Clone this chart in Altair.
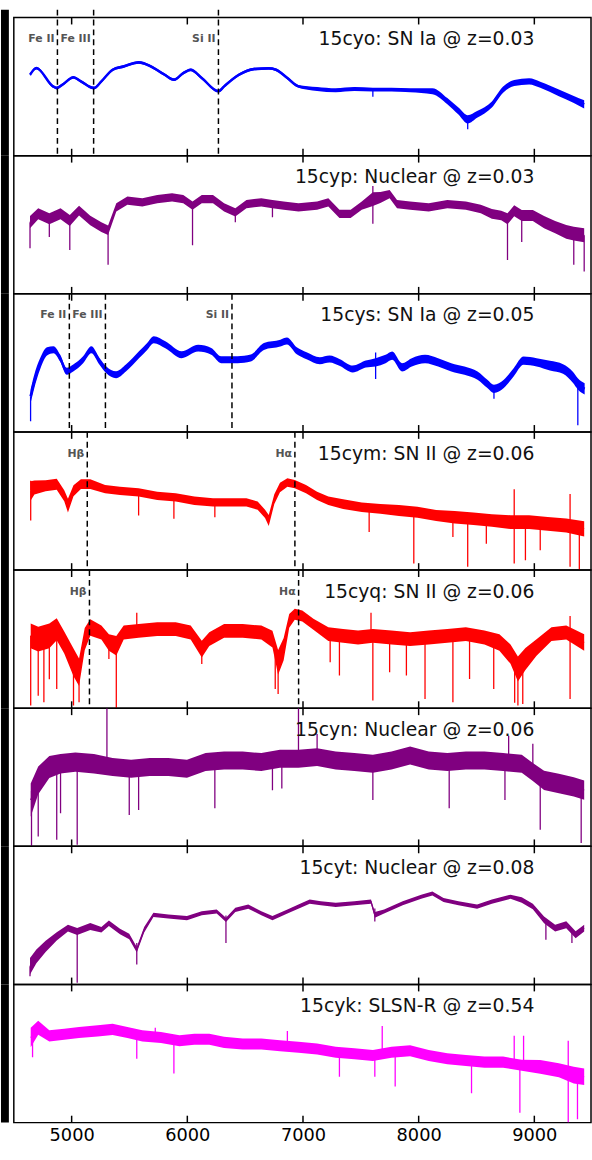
import altair as alt
import pandas as pd

# ---------------- shared axis values ----------------
X_TICKS = [5000, 6000, 7000, 8000, 9000]
X_DOMAIN = [4500, 9490]
TITLE_X = 9000

titles = [
    "15cyo: SN Ia @ z=0.03",
    "15cyp: Nuclear @ z=0.03",
    "15cys: SN Ia @ z=0.05",
    "15cym: SN II @ z=0.06",
    "15cyq: SN II @ z=0.06",
    "15cyn: Nuclear @ z=0.06",
    "15cyt: Nuclear @ z=0.08",
    "15cyk: SLSN-R @ z=0.54",
]
colors = ["#0000ff", "#800080", "#0000ff", "#ff0000", "#ff0000", "#800080", "#800080", "#ff00ff"]

# ---------------- panel 1: 15cyo ----------------
p1_wl = [4640, 4695, 4839, 4871, 4920, 5016, 5080, 5193, 5257, 5354, 5450, 5579, 5675, 5804, 5884,
         5965, 6029, 6125, 6270, 6318, 6447, 6576, 6704, 6768, 6865, 6961, 7122, 7283, 7444, 7604,
         7765, 7926, 8119, 8248, 8344, 8424, 8505, 8633, 8730, 8826, 8955, 9051, 9212, 9341, 9431]
p1_flux = [0.586, 0.634, 0.502, 0.490, 0.514, 0.567, 0.538, 0.490, 0.538, 0.622, 0.646, 0.675, 0.651, 0.586, 0.550,
           0.598, 0.622, 0.562, 0.467, 0.502, 0.586, 0.627, 0.632, 0.622, 0.562, 0.502, 0.483, 0.474, 0.483, 0.478,
           0.478, 0.474, 0.467, 0.395, 0.323, 0.263, 0.299, 0.371, 0.478, 0.526, 0.538, 0.514, 0.455, 0.407, 0.371]
p1_noise = [0.010, 0.010, 0.010, 0.010, 0.010, 0.010, 0.010, 0.010, 0.010, 0.010, 0.010, 0.010, 0.010, 0.010, 0.010,
            0.010, 0.010, 0.010, 0.010, 0.010, 0.010, 0.010, 0.010, 0.010, 0.010, 0.010, 0.014, 0.014, 0.014, 0.014,
            0.014, 0.014, 0.022, 0.022, 0.025, 0.030, 0.025, 0.022, 0.022, 0.022, 0.022, 0.022, 0.025, 0.025, 0.030]
p1_spk_wl = [7604, 8424]
p1_spk_a = [0.478, 0.263]
p1_spk_b = [0.426, 0.191]
p1_lines = [4877, 5190, 6269]
p1_line_labels = ["Fe II", "Fe III", "Si II"]

# ---------------- panel 2: 15cyp ----------------
p2_wl = [4640, 4711, 4807, 4904, 4984, 5064, 5161, 5257, 5315, 5386,
         5482, 5611, 5740, 5868, 5965, 6045, 6125, 6222, 6318, 6415,
         6511, 6640, 6736, 6833, 6961, 7122, 7219, 7315, 7412, 7508,
         7604, 7669, 7749, 7813, 7926, 8087, 8248, 8408, 8537, 8633,
         8714, 8768, 8826, 8891, 8987, 9084, 9180, 9276, 9341, 9431]
p2_flux = [0.519, 0.579, 0.543, 0.579, 0.531, 0.602, 0.531, 0.483, 0.460, 0.626,
           0.674, 0.662, 0.686, 0.698, 0.686, 0.638, 0.686, 0.686, 0.626, 0.590,
           0.650, 0.662, 0.650, 0.638, 0.626, 0.638, 0.662, 0.579, 0.579, 0.638,
           0.686, 0.698, 0.721, 0.650, 0.638, 0.626, 0.650, 0.638, 0.614, 0.579,
           0.567, 0.543, 0.602, 0.567, 0.567, 0.519, 0.483, 0.448, 0.436, 0.424]
p2_noise = [0.045, 0.040, 0.040, 0.040, 0.040, 0.035, 0.035, 0.035, 0.035, 0.030,
            0.030, 0.030, 0.030, 0.030, 0.030, 0.030, 0.030, 0.030, 0.030, 0.030,
            0.030, 0.030, 0.030, 0.030, 0.030, 0.030, 0.030, 0.030, 0.030, 0.030,
            0.050, 0.040, 0.030, 0.030, 0.030, 0.030, 0.030, 0.030, 0.030, 0.035,
            0.035, 0.040, 0.040, 0.040, 0.040, 0.045, 0.045, 0.050, 0.050, 0.050]
p2_spk_wl = [4640, 4807, 4984, 5315, 6045, 6415, 6736, 7604, 7604, 8768, 8891, 9341, 9431]
p2_spk_a = [0.519, 0.543, 0.531, 0.460, 0.638, 0.590, 0.650, 0.686, 0.686, 0.543, 0.567, 0.436, 0.424]
p2_spk_b = [0.329, 0.412, 0.317, 0.210, 0.352, 0.519, 0.555, 0.507, 0.781, 0.245, 0.376, 0.210, 0.162]
p2_lines = []
p2_line_labels = []

# ---------------- panel 3: 15cys ----------------
p3_wl = [4645, 4673, 4730, 4787, 4843, 4900, 4957, 5014, 5099, 5170,
         5241, 5298, 5384, 5469, 5582, 5653, 5710, 5810, 5951, 6094,
         6207, 6292, 6435, 6548, 6662, 6804, 6861, 6946, 7031, 7145,
         7230, 7315, 7430, 7543, 7628, 7714, 7771, 7856, 7941, 8055,
         8168, 8282, 8396, 8509, 8594, 8651, 8736, 8821, 8907, 9020,
         9135, 9248, 9333, 9376, 9435]
p3_flux = [0.258, 0.354, 0.499, 0.583, 0.595, 0.535, 0.439, 0.463, 0.523, 0.595,
           0.511, 0.451, 0.414, 0.463, 0.559, 0.619, 0.667, 0.631, 0.559, 0.607,
           0.583, 0.523, 0.523, 0.535, 0.619, 0.643, 0.659, 0.588, 0.552, 0.516,
           0.528, 0.504, 0.456, 0.492, 0.504, 0.528, 0.552, 0.468, 0.504, 0.528,
           0.504, 0.468, 0.444, 0.408, 0.348, 0.312, 0.348, 0.432, 0.516, 0.504,
           0.480, 0.456, 0.396, 0.348, 0.312]
p3_noise = [0.050, 0.050, 0.040, 0.030, 0.025, 0.025, 0.025, 0.025, 0.025, 0.025,
            0.025, 0.025, 0.025, 0.025, 0.025, 0.025, 0.025, 0.025, 0.025, 0.025,
            0.025, 0.025, 0.025, 0.025, 0.025, 0.025, 0.025, 0.025, 0.025, 0.025,
            0.025, 0.025, 0.025, 0.025, 0.030, 0.030, 0.030, 0.030, 0.030, 0.030,
            0.030, 0.030, 0.030, 0.030, 0.030, 0.030, 0.030, 0.030, 0.030, 0.030,
            0.035, 0.035, 0.040, 0.040, 0.040]
p3_spk_wl = [4645, 7628, 7628, 8651, 9376]
p3_spk_a = [0.258, 0.504, 0.504, 0.312, 0.348]
p3_spk_b = [0.077, 0.576, 0.384, 0.240, 0.048]
p3_lines = [4980, 5292, 6386]
p3_line_labels = ["Fe II", "Fe III", "Si II"]

# ---------------- panel 4: 15cym ----------------
p4_wl = [4646, 4678, 4775, 4871, 4936, 4968, 5016, 5080, 5161, 5289,
         5418, 5579, 5740, 5900, 6061, 6222, 6383, 6511, 6608, 6672,
         6704, 6752, 6801, 6865, 6929, 7026, 7122, 7219, 7347, 7508,
         7669, 7830, 7990, 8151, 8312, 8473, 8633, 8794, 8955, 9116,
         9276, 9431]
p4_flux = [0.574, 0.598, 0.610, 0.622, 0.538, 0.467, 0.574, 0.622, 0.622, 0.586,
           0.574, 0.562, 0.538, 0.526, 0.502, 0.490, 0.490, 0.490, 0.467, 0.407,
           0.359, 0.514, 0.598, 0.634, 0.622, 0.586, 0.538, 0.502, 0.478, 0.455,
           0.443, 0.431, 0.419, 0.395, 0.383, 0.371, 0.359, 0.347, 0.347, 0.335,
           0.323, 0.299]
p4_noise = [0.070, 0.050, 0.040, 0.040, 0.040, 0.050, 0.040, 0.035, 0.035, 0.030,
            0.030, 0.030, 0.030, 0.030, 0.030, 0.030, 0.030, 0.030, 0.030, 0.030,
            0.040, 0.035, 0.035, 0.030, 0.030, 0.030, 0.030, 0.030, 0.035, 0.035,
            0.035, 0.040, 0.040, 0.040, 0.045, 0.045, 0.045, 0.050, 0.050, 0.050,
            0.050, 0.055]
p4_spk_wl = [4646, 4646, 5579, 5884, 6238, 7572, 7958, 8296, 8424, 8585, 8826, 8826, 8923, 9051, 9309, 9309, 9389]
p4_spk_a = [0.574, 0.574, 0.562, 0.526, 0.490, 0.443, 0.431, 0.383, 0.371, 0.359, 0.347, 0.347, 0.347, 0.340, 0.323, 0.323, 0.310]
p4_spk_b = [0.359, 0.646, 0.395, 0.371, 0.383, 0.275, 0.048, 0.239, 0.024, 0.191, 0.048, 0.586, 0.072, 0.144, 0.024, 0.550, 0.000]
p4_lines = [5135, 6930]
p4_line_labels = ["Hβ", "Hα"]

# ---------------- panel 5: 15cyq ----------------
p5_wl = [4646, 4711, 4807, 4871, 4936, 5016, 5064, 5113, 5161, 5257,
         5322, 5386, 5450, 5579, 5740, 5900, 6029, 6125, 6190, 6318,
         6479, 6640, 6736, 6785, 6833, 6881, 6929, 6994, 7090, 7219,
         7347, 7476, 7604, 7765, 7926, 8087, 8248, 8408, 8569, 8698,
         8794, 8858, 8923, 9019, 9148, 9276, 9431]
p5_flux = [0.524, 0.500, 0.524, 0.572, 0.476, 0.332, 0.260, 0.500, 0.584, 0.548,
           0.476, 0.452, 0.548, 0.560, 0.572, 0.572, 0.548, 0.428, 0.500, 0.560,
           0.560, 0.548, 0.500, 0.332, 0.428, 0.632, 0.680, 0.668, 0.608, 0.536,
           0.524, 0.512, 0.524, 0.512, 0.500, 0.512, 0.524, 0.536, 0.512, 0.476,
           0.392, 0.284, 0.356, 0.440, 0.536, 0.548, 0.476]
p5_noise = [0.090, 0.090, 0.090, 0.080, 0.080, 0.100, 0.100, 0.080, 0.060, 0.050,
            0.060, 0.070, 0.050, 0.050, 0.050, 0.050, 0.050, 0.060, 0.050, 0.050,
            0.050, 0.050, 0.060, 0.090, 0.080, 0.050, 0.040, 0.040, 0.040, 0.050,
            0.050, 0.050, 0.050, 0.050, 0.050, 0.050, 0.050, 0.050, 0.050, 0.060,
            0.070, 0.090, 0.080, 0.060, 0.050, 0.050, 0.060]
p5_spk_wl = [4646, 4711, 4760, 4807, 4871, 5016, 5064, 5322, 5386, 5563,
             6125, 6760, 6785, 7235, 7315, 7588, 7604, 7749, 7894, 8055,
             8296, 8440, 8649, 8830, 8858, 8900, 9309, 9309]
p5_spk_a = [0.524, 0.500, 0.510, 0.524, 0.572, 0.332, 0.260, 0.476, 0.452, 0.560,
            0.428, 0.400, 0.332, 0.536, 0.524, 0.524, 0.524, 0.512, 0.500, 0.512,
            0.524, 0.536, 0.500, 0.340, 0.284, 0.320, 0.540, 0.540]
p5_spk_b = [0.019, 0.091, 0.043, 0.210, 0.139, 0.019, 0.043, 0.356, 0.000, 0.692,
            0.320, 0.140, 0.103, 0.332, 0.236, 0.692, 0.055, 0.260, 0.236, 0.067,
            0.043, 0.212, 0.139, 0.040, 0.019, 0.030, 0.067, 0.668]
p5_lines = [5154, 6962]
p5_line_labels = ["Hβ", "Hα"]

# ---------------- panel 6: 15cyn ----------------
p6_wl = [4646, 4711, 4807, 4904, 5032, 5193, 5354, 5514, 5675, 5836,
         5997, 6158, 6318, 6479, 6640, 6801, 6961, 7122, 7283, 7444,
         7604, 7765, 7926, 8087, 8248, 8408, 8569, 8730, 8891, 8987,
         9084, 9212, 9341, 9431]
p6_flux = [0.335, 0.478, 0.574, 0.598, 0.610, 0.598, 0.574, 0.562, 0.574, 0.574,
           0.562, 0.610, 0.622, 0.622, 0.610, 0.634, 0.634, 0.646, 0.622, 0.610,
           0.598, 0.622, 0.658, 0.622, 0.610, 0.622, 0.622, 0.610, 0.598, 0.538,
           0.478, 0.455, 0.431, 0.407]
p6_noise = [0.120, 0.100, 0.080, 0.070, 0.070, 0.070, 0.065, 0.065, 0.065, 0.065,
            0.065, 0.065, 0.065, 0.065, 0.065, 0.065, 0.065, 0.065, 0.065, 0.065,
            0.065, 0.065, 0.065, 0.065, 0.065, 0.065, 0.065, 0.065, 0.065, 0.065,
            0.070, 0.070, 0.070, 0.070]
p6_spk_wl = [4653, 4711, 4871, 4904, 5048, 5305, 5498, 5579, 6238, 6736,
             6817, 6961, 7122, 7604, 8264, 8746, 8778, 8987, 9051, 9405]
p6_spk_a = [0.400, 0.478, 0.574, 0.598, 0.610, 0.590, 0.565, 0.565, 0.600, 0.610,
            0.630, 0.634, 0.646, 0.598, 0.610, 0.610, 0.610, 0.538, 0.500, 0.410]
p6_spk_b = [0.000, 0.072, 0.048, 0.239, 0.012, 1.000, 0.227, 0.263, 0.275, 0.407,
            0.419, 1.000, 0.813, 0.335, 0.275, 0.335, 0.801, 0.742, 0.120, 0.024]
p6_lines = []
p6_line_labels = []

# ---------------- panel 7: 15cyt ----------------
p7_wl = [4640, 4695, 4775, 4871, 4968, 5048, 5161, 5257, 5322, 5418,
         5498, 5563, 5627, 5707, 5836, 5997, 6125, 6254, 6334, 6415,
         6527, 6640, 6736, 6865, 6994, 7058, 7154, 7283, 7444, 7588,
         7621, 7701, 7862, 8022, 8119, 8215, 8344, 8505, 8633, 8794,
         8891, 8987, 9084, 9180, 9276, 9357, 9431]
p7_flux = [0.132, 0.204, 0.276, 0.348, 0.408, 0.384, 0.420, 0.396, 0.444, 0.384,
           0.348, 0.252, 0.396, 0.504, 0.492, 0.480, 0.516, 0.528, 0.468, 0.540,
           0.564, 0.516, 0.480, 0.528, 0.576, 0.600, 0.588, 0.576, 0.588, 0.600,
           0.504, 0.528, 0.588, 0.635, 0.659, 0.612, 0.588, 0.564, 0.600, 0.635,
           0.612, 0.564, 0.468, 0.408, 0.432, 0.360, 0.408]
p7_noise = [0.060, 0.050, 0.040, 0.030, 0.025, 0.025, 0.025, 0.020, 0.020, 0.020,
            0.020, 0.020, 0.020, 0.015, 0.015, 0.015, 0.015, 0.015, 0.015, 0.015,
            0.015, 0.015, 0.015, 0.015, 0.015, 0.015, 0.015, 0.015, 0.015, 0.015,
            0.020, 0.015, 0.015, 0.015, 0.015, 0.015, 0.015, 0.015, 0.015, 0.015,
            0.020, 0.020, 0.025, 0.025, 0.025, 0.025, 0.025]
p7_spk_wl = [4640, 5048, 5563, 6334, 7621, 9100, 9325]
p7_spk_a = [0.132, 0.400, 0.300, 0.500, 0.550, 0.460, 0.400]
p7_spk_b = [0.060, 0.012, 0.144, 0.300, 0.456, 0.324, 0.300]
p7_lines = []
p7_line_labels = []

# ---------------- panel 8: 15cyk ----------------
p8_wl = [4646, 4711, 4807, 4936, 5064, 5225, 5354, 5482, 5611, 5772,
         5932, 6061, 6190, 6318, 6479, 6640, 6801, 6961, 7122, 7283,
         7444, 7604, 7765, 7926, 8087, 8248, 8408, 8569, 8730, 8891,
         9051, 9212, 9341, 9431]
p8_flux = [0.616, 0.687, 0.628, 0.640, 0.652, 0.664, 0.675, 0.652, 0.628, 0.616,
           0.592, 0.604, 0.604, 0.581, 0.569, 0.569, 0.557, 0.545, 0.533, 0.509,
           0.498, 0.486, 0.509, 0.521, 0.486, 0.462, 0.450, 0.438, 0.438, 0.415,
           0.403, 0.379, 0.344, 0.332]
p8_noise = [0.070, 0.050, 0.040, 0.040, 0.040, 0.040, 0.040, 0.040, 0.040, 0.040,
            0.040, 0.040, 0.040, 0.040, 0.040, 0.040, 0.040, 0.040, 0.040, 0.040,
            0.040, 0.040, 0.040, 0.040, 0.040, 0.040, 0.040, 0.040, 0.040, 0.040,
            0.050, 0.050, 0.060, 0.060]
p8_spk_wl = [4662, 5563, 5884, 7315, 7621, 7797, 8457, 8875, 9293, 9373, 5723, 6865, 7685, 8826, 8907, 9293]
p8_spk_a = [0.620, 0.660, 0.600, 0.510, 0.490, 0.510, 0.450, 0.420, 0.360, 0.340, 0.630, 0.550, 0.500, 0.420, 0.420, 0.360]
p8_spk_b = [0.474, 0.462, 0.355, 0.332, 0.332, 0.261, 0.213, 0.071, 0.000, 0.024, 0.687, 0.664, 0.699, 0.628, 0.628, 0.592]
p8_lines = []
p8_line_labels = []

panels_data = [
    (p1_wl, p1_flux, p1_noise, p1_spk_wl, p1_spk_a, p1_spk_b, p1_lines, p1_line_labels),
    (p2_wl, p2_flux, p2_noise, p2_spk_wl, p2_spk_a, p2_spk_b, p2_lines, p2_line_labels),
    (p3_wl, p3_flux, p3_noise, p3_spk_wl, p3_spk_a, p3_spk_b, p3_lines, p3_line_labels),
    (p4_wl, p4_flux, p4_noise, p4_spk_wl, p4_spk_a, p4_spk_b, p4_lines, p4_line_labels),
    (p5_wl, p5_flux, p5_noise, p5_spk_wl, p5_spk_a, p5_spk_b, p5_lines, p5_line_labels),
    (p6_wl, p6_flux, p6_noise, p6_spk_wl, p6_spk_a, p6_spk_b, p6_lines, p6_line_labels),
    (p7_wl, p7_flux, p7_noise, p7_spk_wl, p7_spk_a, p7_spk_b, p7_lines, p7_line_labels),
    (p8_wl, p8_flux, p8_noise, p8_spk_wl, p8_spk_a, p8_spk_b, p8_lines, p8_line_labels),
]

W, H = 585, 140
FONT = "DejaVu Sans"
smooth = [True, False, True, False, False, False, False, False]


def make_panel(i, data, bottom):
    wl, flux, noise, s_wl, s_a, s_b, lines, labels = data
    col = colors[i]
    top_ext = -8 if i == 0 else 0
    xs = alt.Scale(domain=X_DOMAIN, nice=False, zero=False)
    ys = alt.Scale(domain=[0, 1], nice=False, zero=False)
    if bottom:
        xaxis = alt.Axis(values=X_TICKS, format="d", labelFontSize=18, labelFont=FONT,
                         labelColor="black", ticks=False, domain=False, grid=False,
                         title=None, labelPadding=4)
    else:
        xaxis = None
    X = alt.X("wl:Q", scale=xs, axis=xaxis)

    df = pd.DataFrame({
        "wl": wl,
        "flux": flux,
        "lo": [f - n for f, n in zip(flux, noise)],
        "hi": [f + n for f, n in zip(flux, noise)],
    })
    sdf = pd.DataFrame({"wl": s_wl, "a": s_a, "b": s_b})
    ldf = pd.DataFrame({"wl": lines, "label": labels})
    tdf = pd.DataFrame({"wl": X_TICKS})
    hdf = pd.DataFrame({"wl": [TITLE_X], "t": [titles[i]]})

    strip = alt.Chart(hdf).mark_rect(color="black").encode(
        x=alt.value(-13), x2=alt.value(-5), y=alt.value(top_ext), y2=alt.value(H))

    band = alt.Chart(df).mark_area(
        color=col, opacity=1, clip=True,
        interpolate="monotone" if smooth[i] else "linear").encode(
        x=X, y=alt.Y("lo:Q", scale=ys, axis=None), y2="hi:Q")
    line = alt.Chart(df).mark_line(
        color=col, strokeWidth=2.5 if smooth[i] else 1.2, clip=True,
        interpolate="monotone" if smooth[i] else "linear").encode(
        x=X, y=alt.Y("flux:Q", scale=ys, axis=None))
    spikes = alt.Chart(sdf).mark_rule(color=col, strokeWidth=1.3, clip=True).encode(
        x=X, y=alt.Y("a:Q", scale=ys, axis=None), y2="b:Q")

    tick_top = alt.Chart(tdf).mark_rule(color="black", strokeWidth=1.5).encode(
        x=X, y=alt.value(0), y2=alt.value(7))
    tick_bot = alt.Chart(tdf).mark_rule(color="black", strokeWidth=1.5).encode(
        x=X, y=alt.value(H - 7), y2=alt.value(H))

    title = alt.Chart(hdf).mark_text(align="right", baseline="middle", fontSize=19,
                                     font=FONT, color="#111").encode(
        x=X, y=alt.value(22), text="t:N")

    layers = [strip, band, line, spikes, tick_top, tick_bot, title]
    if len(lines) > 0:
        dashed = alt.Chart(ldf).mark_rule(color="black", strokeWidth=1.5,
                                          strokeDash=[6, 4]).encode(
            x=X, y=alt.value(top_ext), y2=alt.value(H))
        ltext = alt.Chart(ldf).mark_text(align="right", baseline="middle", dx=-3,
                                         fontSize=11, font=FONT, fontWeight="bold",
                                         color="#555").encode(
            x=X, y=alt.value(22), text="label:N")
        layers += [dashed, ltext]
    return alt.layer(*layers).properties(width=W, height=H)


panels = [make_panel(i, d, i == len(panels_data) - 1) for i, d in enumerate(panels_data)]

chart = alt.vconcat(*panels, spacing=0, bounds="flush").properties(
    padding={"left": 0, "top": 0, "right": 0, "bottom": 0}
).configure(
    font=FONT, background="white"
).configure_view(
    stroke="black", strokeWidth=1.5
)

chart.save("out.html", embed_options={"renderer": "svg", "actions": False})
